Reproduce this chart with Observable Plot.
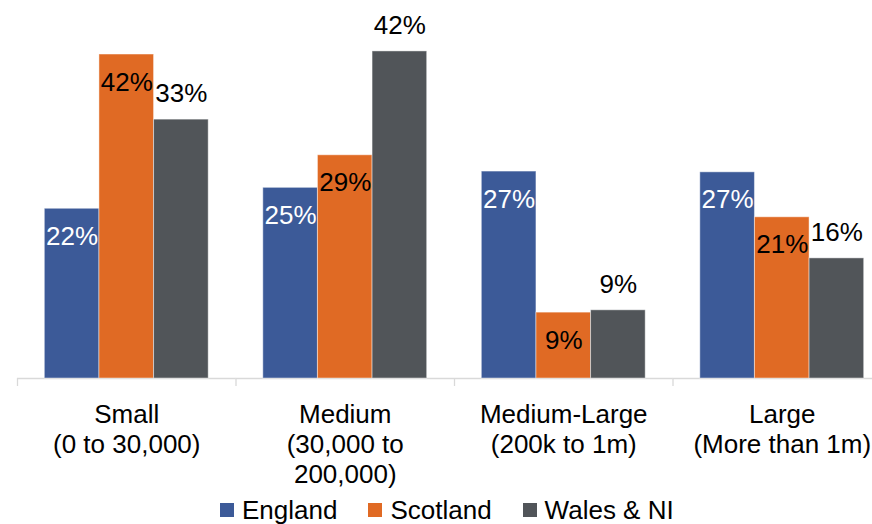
<!DOCTYPE html>
<html>
<head>
<meta charset="utf-8">
<script src="https://cdn.jsdelivr.net/npm/d3@7"></script>
<script src="https://cdn.jsdelivr.net/npm/@observablehq/plot@0.6"></script>
<style>
  html, body { margin: 0; padding: 0; background: #fff; }
  body { width: 872px; height: 524px; overflow: hidden; font-family: "Liberation Sans", Arial, sans-serif; }
  #chart svg { display: block; }
  .lg-swatches { font-family: "Liberation Sans", Arial, sans-serif !important; font-size: 26px !important; color: #000; margin: -5px 0 0 0 !important; padding-left: 220px; display: flex; align-items: center; line-height: 30px; height: 30px; }
  .lg-swatch { margin-right: 31px !important; display: inline-flex; align-items: center; }
  .lg-swatch > svg { margin-right: 8px !important; }
</style>
</head>
<body>
<div id="chart"></div>
<script>
// ---- data ----
const categories = ["Small", "Medium", "Medium-Large", "Large"];
const categoryLabels = ["Small\n(0 to 30,000)", "Medium\n(30,000 to\n200,000)", "Medium-Large\n(200k to 1m)", "Large\n(More than 1m)"];
const series = ["England", "Scotland", "Wales & NI"];
const england = [21.9, 24.6, 26.7, 26.6];
const scotland = [41.8, 28.8, 8.5, 20.8];
const walesNI = [33.4, 42.2, 8.8, 15.5];
const englandLabels = ["22%", "25%", "27%", "27%"];
const scotlandLabels = ["42%", "29%", "9%", "21%"];
const walesNILabels = ["33%", "42%", "9%", "16%"];
const colors = ["#3C5A98", "#E06A24", "#515559"];

// ---- table ----
const valuesBySeries = [england, scotland, walesNI];
const labelsBySeries = [englandLabels, scotlandLabels, walesNILabels];
const rows = [];
series.forEach((s, j) => categories.forEach((c, i) => rows.push({category: c, series: s, value: valuesBySeries[j][i], label: labelsBySeries[j][i]})));
const catText = new Map(categories.map((c, i) => [c, categoryLabels[i]]));

// boundary markers for the category axis (band slots either side of the series)
const edgeL = "\u2039edge", edgeR = "edge\u203a";

const font = "'Liberation Sans', Arial, sans-serif";
const chart = Plot.plot({
  width: 872,
  height: 498,
  marginLeft: 17,
  marginRight: -19,
  marginTop: 0,
  marginBottom: 112,
  style: {fontFamily: font, background: "transparent", overflow: "visible"},
  fx: {domain: categories, padding: 0, round: false, axis: null},
  x: {domain: [edgeL, ...series, edgeR], paddingInner: 0, paddingOuter: -0.5, round: false, axis: null},
  y: {domain: [-1.03, 48.77], axis: null},
  color: {domain: series, range: colors},
  marks: [
    Plot.ruleY(categories, {fx: d => d, y: () => 0, stroke: "#d9d9d9", strokeWidth: 1.3}),
    Plot.ruleX(categories, {fx: d => d, x: () => edgeL, y1: () => 0, y2: () => -1.03, stroke: "#d9d9d9", strokeWidth: 1.3}),
    Plot.barY(rows, {fx: "category", x: "series", y: "value", fill: "series", stroke: "#ffffff", strokeOpacity: 0.45, strokeWidth: 1}),
    Plot.text(rows.filter(d => d.series === "England"), {fx: "category", x: "series", y: "value", text: "label", fill: "white", fontSize: 26, dy: 27.7, fontFamily: font}),
    Plot.text(rows.filter(d => d.series === "Scotland"), {fx: "category", x: "series", y: "value", text: "label", fill: "black", fontSize: 26, dy: 27.7, fontFamily: font}),
    Plot.text(rows.filter(d => d.series === "Wales & NI"), {fx: "category", x: "series", y: "value", text: "label", fill: "black", fontSize: 26, dy: -25.8, fontFamily: font}),
    Plot.text(categories, {fx: d => d, text: d => catText.get(d), frameAnchor: "bottom", lineAnchor: "top", dy: 15.5, lineHeight: 1.154, fontSize: 26, fill: "black", fontFamily: font})
  ]
});
document.getElementById("chart").appendChild(chart);
const legend = chart.legend("color", {legend: "swatches", swatchSize: 14, className: "lg"});
document.getElementById("chart").appendChild(legend);
</script>
</body>
</html>
